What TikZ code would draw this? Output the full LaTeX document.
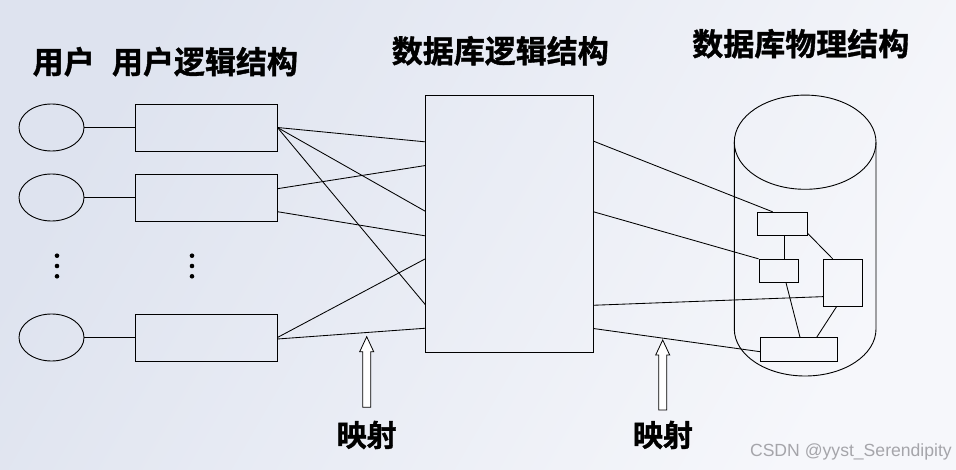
\documentclass[tikz,border=0pt]{standalone}
\usepackage{fontspec}
\setmainfont{Liberation Sans}
\newfontfamily\cjk[FakeBold=1.2]{Noto Sans CJK SC Bold}
\usetikzlibrary{shapes.geometric}
\definecolor{bgA}{RGB}{222,227,239}
\definecolor{bgB}{RGB}{246,247,251}
\definecolor{wm}{RGB}{165,165,170}
\tikzset{
  box/.style={draw=black, line width=0.9pt, rectangle, inner sep=0pt},
  oval/.style={draw=black, line width=0.9pt, ellipse, inner sep=0pt, minimum width=65pt, minimum height=47pt},
  link/.style={draw=black, line width=0.85pt},
  title/.style={font=\cjk\fontsize{31}{31}\selectfont, inner sep=0pt},
  maptext/.style={font=\cjk\fontsize{30}{30}\selectfont, inner sep=0pt},
  vdot/.style={circle, fill=black, inner sep=0pt, minimum size=4.6pt},
  hollowarrow/.style={draw=black, fill=white, line width=0.8pt, line join=miter}
}
\begin{document}
\begin{tikzpicture}[x=1pt, y=-1pt]
\shade[left color=bgA, right color=bgB, shading angle=60] (0,0) rectangle (956,470);
\useasboundingbox (0,0) rectangle (956,470);

% titles
\node[title] (tu) at (63.7,61.7) {用户};
\node[title] (tul) at (205,61.7) {用户逻辑结构};
\node[title] (tdl) at (500.3,50.8) {数据库逻辑结构};
\node[title] (tdp) at (800.8,43.7) {数据库物理结构};

% users
\node[oval] (e1) at (51.5,127.5) {};
\node[oval] (e2) at (51.5,197.5) {};
\node[oval] (e3) at (51.5,337.5) {};
% user logical structures
\node[box, minimum width=142pt, minimum height=47pt] (r1) at (206,127.5) {};
\node[box, minimum width=142pt, minimum height=47pt] (r2) at (206,197.5) {};
\node[box, minimum width=142pt, minimum height=47pt] (r3) at (206,337.5) {};
\draw[link] (e1) -- (r1);
\draw[link] (e2) -- (r2);
\draw[link] (e3) -- (r3);

% vertical dots
\foreach \yy [count=\i] in {255.7,266,276.3}{
  \node[vdot] (dl\i) at (57,\yy) {};
  \node[vdot] (dr\i) at (192,\yy) {};
}

% database logical structure
\node[box, minimum width=167.6pt, minimum height=256.3pt] (big) at (509.5,223.85) {};

% mappings user-logical -> db-logical
\draw[link] (r1.east) -- ([yshift=-46.6pt]big.north west);
\draw[link] (r1.east) -- ([yshift=-116pt]big.north west);
\draw[link] (r1.east) -- ([yshift=-209.3pt]big.north west);
\draw[link] ([yshift=8.8pt]r2.east) -- ([yshift=-70.3pt]big.north west);
\draw[link] ([yshift=-14.2pt]r2.east) -- ([yshift=-140.6pt]big.north west);
\draw[link] (r3.east) -- ([yshift=-163.6pt]big.north west);
\draw[link] ([yshift=-1.5pt]r3.east) -- ([yshift=-233pt]big.north west);

% cylinder (physical structure)
\draw[line width=0.9pt] (805.15,142.2) ellipse [x radius=70.85, y radius=47.1];
\draw[line width=0.9pt] (734.3,142.2) -- (734.3,329) arc[start angle=180, end angle=0, x radius=70.85, y radius=47] -- (876,142.2);

% inner physical boxes
\node[box, minimum width=50pt, minimum height=23.4pt] (b1) at (782.3,224) {};
\node[box, minimum width=39.3pt, minimum height=23pt] (b2) at (778.65,270.8) {};
\node[box, minimum width=39.4pt, minimum height=46.7pt] (b3) at (843,282.65) {};
\node[box, minimum width=77.4pt, minimum height=23.3pt] (b4) at (799,349.35) {};
\draw[link] ([xshift=1.7pt]b1.south) -- ([xshift=1.7pt]b1.south |- b2.north);
\draw[link] ([yshift=2.7pt]b1.south east) -- ([xshift=-10.3pt]b3.north);
\draw[link] ([xshift=7.35pt]b2.south) -- ([xshift=1pt]b4.north);
\draw[link] ([xshift=-6.3pt]b3.south) -- ([xshift=17.7pt]b4.north);

% mappings db-logical -> physical
\draw[link] ([yshift=-46pt]big.north east) -- ([xshift=-9.6pt]b1.north);
\draw[link] ([yshift=-116.6pt]big.north east) -- (b2.north west);
\draw[link] ([yshift=-210pt]big.north east) -- ([yshift=-14pt]b3.west);
\draw[link] ([yshift=-233.3pt]big.north east) -- ([yshift=-2.3pt]b4.west);

% hollow arrows and labels
\foreach \ax/\ay/\ab/\nm in {366.7/336.7/407.3/ma, 662.7/340/410/mb}{
  \draw[hollowarrow] (\ax,\ay) -- (\ax+7,\ay+15) -- (\ax+4,\ay+15) -- (\ax+4,\ab) -- (\ax-4,\ab) -- (\ax-4,\ay+15) -- (\ax-7,\ay+15) -- cycle;
}
\node[maptext] (l1) at (366.7,435) {映射};
\node[maptext] (l2) at (663,435) {映射};

% watermark
\node[font=\fontsize{17.6}{17.6}\selectfont, text=wm, inner sep=0pt, anchor=east] (wmk) at (952,452) {CSDN @yyst\_Serendipity};
\end{tikzpicture}
\end{document}
